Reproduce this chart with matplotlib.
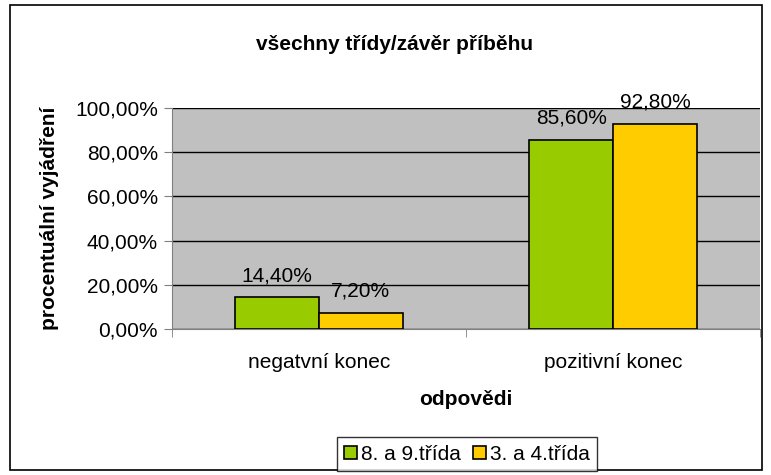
import numpy as np
import matplotlib.pyplot as plt
from matplotlib.patches import Rectangle

plt.rcParams['font.family'] = ['Liberation Sans', 'DejaVu Sans']

categories = ['negatvní konec', 'pozitivní konec']
series_names = ['8. a 9.třída', '3. a 4.třída']
older = [14.40, 85.60]
younger = [7.20, 92.80]
colors = ['#99cc00', '#ffcc00']

FS = 15

def pct(v):
    return ('%.2f%%' % v).replace('.', ',')

fig = plt.figure(figsize=(7.71, 4.75), dpi=100)
fig.patches.append(Rectangle((10 / 771, 5 / 475), 752 / 771, 465 / 475,
                             transform=fig.transFigure, fill=False,
                             edgecolor='black', linewidth=1.2))

ax = fig.add_axes([172 / 771, 1 - 329 / 475, 588 / 771, 221 / 475])
ax.set_facecolor('#c0c0c0')

x = np.arange(len(categories))
w = 0.285
for i, (vals, c) in enumerate(zip([older, younger], colors)):
    b = ax.bar(x + (i - 0.5) * w, vals, w, color=c, edgecolor='black',
               linewidth=1.2, label=series_names[i], zorder=3)
    for rect, v in zip(b, vals):
        ax.text(rect.get_x() + rect.get_width() / 2, v + 5.5, pct(v),
                ha='center', va='bottom', fontsize=FS)

ax.set_xlim(-0.5, 1.5)
ax.set_ylim(0, 100)
ax.set_yticks(np.arange(0, 101, 20))
ax.set_yticklabels([pct(v) for v in range(0, 101, 20)], fontsize=FS)
ax.yaxis.grid(True, color='black', linewidth=1)
ax.set_axisbelow(True)

ax.set_xticks(x)
ax.set_xticklabels(categories, fontsize=FS)
ax.tick_params(axis='x', length=0, pad=17)
ax.set_xticks([-0.5, 0.5, 1.5], minor=True)
ax.tick_params(axis='x', which='minor', length=6, color='gray')
ax.tick_params(axis='y', length=6, color='gray', direction='out', pad=4)

for s in ['top', 'right']:
    ax.spines[s].set_visible(False)
ax.spines['left'].set_color('gray')
ax.spines['bottom'].set_color('gray')

ax.set_ylabel('procentuální vyjádření', fontsize=FS, fontweight='bold')
ax.yaxis.set_label_coords(-0.193, 0.5)
ax.set_xlabel('odpovědi', fontsize=FS, fontweight='bold')
ax.xaxis.set_label_coords(0.5, -0.275)
fig.text(395 / 771, 1 - 44 / 475, 'všechny třídy/závěr příběhu', ha='center',
         va='center', fontsize=FS, fontweight='bold')

leg = fig.legend(loc='center', bbox_to_anchor=(467 / 771, 1 - 454 / 475),
                 ncol=2, fontsize=FS, frameon=True, fancybox=False,
                 handlelength=0.6, handleheight=0.6, handletextpad=0.2,
                 columnspacing=0.6, borderpad=0.35, borderaxespad=0)
leg.get_frame().set_edgecolor('black')
leg.get_frame().set_linewidth(1)

fig.savefig('out.png', dpi=100)
